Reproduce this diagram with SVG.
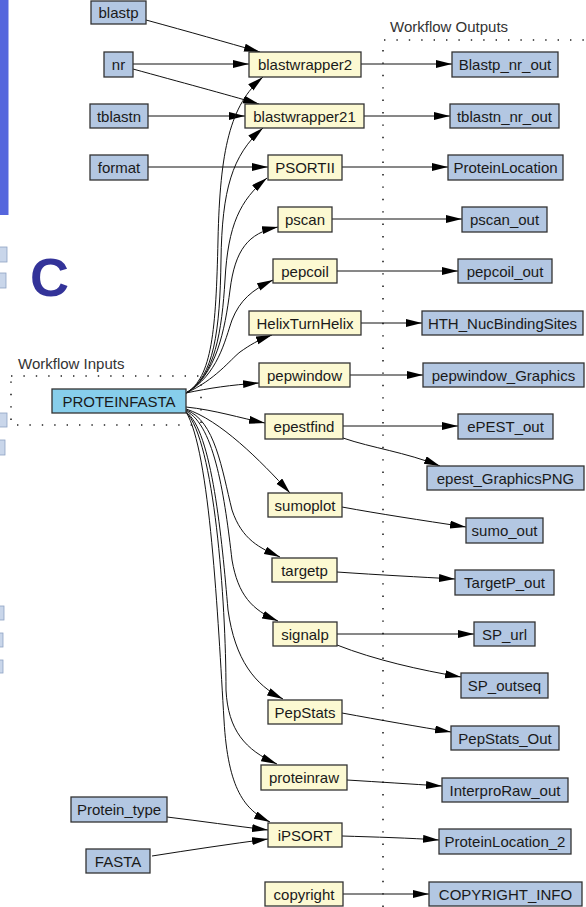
<svg xmlns="http://www.w3.org/2000/svg" width="586" height="907" viewBox="0 0 586 907">
  <style>
    text { font-family: "Liberation Sans", Arial, sans-serif; font-size: 15px; fill: #1a1a1a; }
    .lbl { text-anchor: middle; }
    .proc rect { fill: #fcf9d2; stroke: #333; stroke-width: 1.3; }
    .port rect { fill: #b3c7e2; stroke: #333; stroke-width: 1.3; }
    .src rect { fill: #87ceeb; stroke: #333; stroke-width: 1.3; }
    .edge { fill: none; stroke: #111; stroke-width: 1; marker-end: url(#arrow); }
    .dots { fill: none; stroke: #222; stroke-width: 1.6; stroke-dasharray: 1.4 11; }
    .title { font-size: 15px; fill: #333; }
    .frag { fill: #c9d6ea; stroke: #8fa3c4; stroke-width: 0.8; }
  </style>
  <defs>
    <marker id="arrow" markerUnits="userSpaceOnUse" markerWidth="18" markerHeight="9" refX="16" refY="4" orient="auto">
      <path d="M0,0 L16,4 L0,8 z" fill="#000"/>
    </marker>
  </defs>

  <rect width="586" height="907" fill="#fff"/>

  <!-- cropped neighbouring panel at the left edge -->
  <g id="panel-edge">
    <rect x="0" y="0" width="8.5" height="215" fill="#5566dd"/>
    <rect class="frag" x="-2" y="247" width="9" height="15"/>
    <rect class="frag" x="-2" y="273" width="8" height="15"/>
    <rect class="frag" x="-2" y="413" width="9" height="14"/>
    <rect class="frag" x="-2" y="440" width="7" height="15"/>
    <rect class="frag" x="-2" y="606" width="6" height="14"/>
    <rect class="frag" x="-2" y="633" width="5" height="14"/>
    <rect class="frag" x="-2" y="660" width="5" height="13"/>
    <text x="30" y="296" style="font-size:54px;font-weight:bold;fill:#333399">C</text>
  </g>

  <!-- workflow input / output boundaries -->
  <g id="boundaries">
    <text class="title" x="18" y="369">Workflow Inputs</text>
    <path class="dots" d="M11,376 H201 V425 H11 Z"/>
    <text class="title" x="390" y="32">Workflow Outputs</text>
    <path class="dots" d="M383,907 V40 H586"/>
  </g>

  <g id="connectors">
    <!-- external inputs -->
    <path class="edge" d="M146,20 C190,32 225,42 260,52"/>
    <path class="edge" d="M133,64 H249"/>
    <path class="edge" d="M133,69 C180,82 225,94 259,104"/>
    <path class="edge" d="M148,116 H245"/>
    <path class="edge" d="M148,167 H268"/>
    <path class="edge" d="M167,817 C200,821 235,826 268,830"/>
    <path class="edge" d="M152,856 C190,850 230,844 268,839"/>

    <!-- PROTEINFASTA fan-out, upward -->
    <path class="edge" d="M186,393 C212,378 216,330 218,240 C220,150 230,105 263,77"/>
    <path class="edge" d="M186,393 C214,378 220,330 221,260 C222,190 232,155 263,128"/>
    <path class="edge" d="M186,393 C215,378 222,330 225,280 C228,225 240,200 267,178"/>
    <path class="edge" d="M186,393 C216,376 225,330 230,290 C235,250 248,233 278,227"/>
    <path class="edge" d="M186,393 C218,375 225,340 232,320 C240,300 252,290 273,280"/>
    <path class="edge" d="M186,393 C215,380 230,360 240,352 C250,345 258,340 272,335"/>
    <path class="edge" d="M186,393 C210,388 230,385 259,383"/>

    <!-- PROTEINFASTA fan-out, downward -->
    <path class="edge" d="M186,407 C215,410 240,418 265,423"/>
    <path class="edge" d="M186,409 C220,420 260,460 290,493"/>
    <path class="edge" d="M186,410 C215,420 222,470 232,510 C242,540 260,548 280,557"/>
    <path class="edge" d="M186,411 C215,425 225,500 232,560 C238,595 252,610 278,621"/>
    <path class="edge" d="M186,412 C212,430 222,540 228,610 C235,660 255,685 283,699"/>
    <path class="edge" d="M186,412 C214,440 226,600 226,690 C228,730 245,750 277,764"/>
    <path class="edge" d="M186,412 C210,450 218,620 224,720 C228,790 245,810 270,822"/>

    <!-- processors to outputs -->
    <path class="edge" d="M361,64 H452"/>
    <path class="edge" d="M364,116 H450"/>
    <path class="edge" d="M342,167 H448"/>
    <path class="edge" d="M332,219 H462"/>
    <path class="edge" d="M337,271 H458"/>
    <path class="edge" d="M361,323 H422"/>
    <path class="edge" d="M350,375 H423"/>
    <path class="edge" d="M343,426 H458"/>
    <path class="edge" d="M343,438 C372,448 405,452 440,466"/>
    <path class="edge" d="M342,507 C380,514 420,520 466,527"/>
    <path class="edge" d="M337,572 C380,575 420,577 455,579"/>
    <path class="edge" d="M337,634 H474"/>
    <path class="edge" d="M337,645 C375,660 420,670 461,677"/>
    <path class="edge" d="M342,713 C380,720 420,727 451,732"/>
    <path class="edge" d="M347,780 C380,782 410,784 442,786"/>
    <path class="edge" d="M342,836 C375,837 410,838 439,840"/>
    <path class="edge" d="M343,894 H429"/>
  </g>

  <!-- workflow inputs -->
  <g id="blastp" class="port"><rect x="91" y="1" width="55" height="23"/><text class="lbl" x="118.5" y="18">blastp</text></g>
  <g id="nr" class="port"><rect x="104" y="52" width="29" height="25"/><text class="lbl" x="118.5" y="70">nr</text></g>
  <g id="tblastn" class="port"><rect x="90" y="104" width="58" height="24"/><text class="lbl" x="119" y="121.5">tblastn</text></g>
  <g id="format" class="port"><rect x="90" y="155" width="58" height="25"/><text class="lbl" x="119" y="173">format</text></g>
  <g id="Protein_type" class="port"><rect x="71" y="797" width="96" height="25"/><text class="lbl" x="119" y="815">Protein_type</text></g>
  <g id="FASTA" class="port"><rect x="86" y="849" width="64" height="24"/><text class="lbl" x="118" y="866.5">FASTA</text></g>
  <g id="PROTEINFASTA" class="src"><rect x="52" y="389" width="134" height="24"/><text class="lbl" x="119" y="406.5">PROTEINFASTA</text></g>

  <!-- processors -->
  <g id="blastwrapper2" class="proc"><rect x="249" y="52" width="112" height="25"/><text class="lbl" x="305" y="70">blastwrapper2</text></g>
  <g id="blastwrapper21" class="proc"><rect x="245" y="104" width="119" height="24"/><text class="lbl" x="304.5" y="121.5">blastwrapper21</text></g>
  <g id="PSORTII" class="proc"><rect x="268" y="155" width="74" height="25"/><text class="lbl" x="305" y="173">PSORTII</text></g>
  <g id="pscan" class="proc"><rect x="278" y="207" width="54" height="25"/><text class="lbl" x="305" y="225">pscan</text></g>
  <g id="pepcoil" class="proc"><rect x="273" y="259" width="64" height="24"/><text class="lbl" x="305" y="276.5">pepcoil</text></g>
  <g id="HelixTurnHelix" class="proc"><rect x="249" y="311" width="112" height="24"/><text class="lbl" x="305" y="328.5">HelixTurnHelix</text></g>
  <g id="pepwindow" class="proc"><rect x="259" y="363" width="91" height="24"/><text class="lbl" x="304.5" y="380.5">pepwindow</text></g>
  <g id="epestfind" class="proc"><rect x="265" y="414" width="78" height="25"/><text class="lbl" x="304" y="432">epestfind</text></g>
  <g id="sumoplot" class="proc"><rect x="268" y="493" width="74" height="24"/><text class="lbl" x="305" y="510.5">sumoplot</text></g>
  <g id="targetp" class="proc"><rect x="272" y="558" width="65" height="24"/><text class="lbl" x="304.5" y="575.5">targetp</text></g>
  <g id="signalp" class="proc"><rect x="273" y="622" width="64" height="24"/><text class="lbl" x="305" y="639.5">signalp</text></g>
  <g id="PepStats" class="proc"><rect x="268" y="700" width="74" height="24"/><text class="lbl" x="305" y="717.5">PepStats</text></g>
  <g id="proteinraw" class="proc"><rect x="261" y="765" width="86" height="25"/><text class="lbl" x="304" y="783">proteinraw</text></g>
  <g id="iPSORT" class="proc"><rect x="268" y="823" width="74" height="24"/><text class="lbl" x="305" y="840.5">iPSORT</text></g>
  <g id="copyright" class="proc"><rect x="265" y="882" width="78" height="24"/><text class="lbl" x="304" y="899.5">copyright</text></g>

  <!-- workflow outputs -->
  <g id="Blastp_nr_out" class="port"><rect x="452" y="52" width="106" height="25"/><text class="lbl" x="505" y="70">Blastp_nr_out</text></g>
  <g id="tblastn_nr_out" class="port"><rect x="450" y="104" width="109" height="24"/><text class="lbl" x="504.5" y="121.5">tblastn_nr_out</text></g>
  <g id="ProteinLocation" class="port"><rect x="448" y="155" width="115" height="25"/><text class="lbl" x="505.5" y="173">ProteinLocation</text></g>
  <g id="pscan_out" class="port"><rect x="462" y="207" width="85" height="25"/><text class="lbl" x="504.5" y="225">pscan_out</text></g>
  <g id="pepcoil_out" class="port"><rect x="458" y="259" width="94" height="24"/><text class="lbl" x="505" y="276.5">pepcoil_out</text></g>
  <g id="HTH_NucBindingSites" class="port"><rect x="422" y="311" width="161" height="24"/><text class="lbl" x="502.5" y="328.5">HTH_NucBindingSites</text></g>
  <g id="pepwindow_Graphics" class="port"><rect x="423" y="363" width="161" height="24"/><text class="lbl" x="503.5" y="380.5">pepwindow_Graphics</text></g>
  <g id="ePEST_out" class="port"><rect x="458" y="414" width="95" height="25"/><text class="lbl" x="505.5" y="432">ePEST_out</text></g>
  <g id="epest_GraphicsPNG" class="port"><rect x="427" y="466" width="157" height="24"/><text class="lbl" x="505.5" y="483.5">epest_GraphicsPNG</text></g>
  <g id="sumo_out" class="port"><rect x="466" y="518" width="77" height="25"/><text class="lbl" x="504.5" y="536">sumo_out</text></g>
  <g id="TargetP_out" class="port"><rect x="455" y="570" width="99" height="25"/><text class="lbl" x="504.5" y="588">TargetP_out</text></g>
  <g id="SP_url" class="port"><rect x="474" y="622" width="61" height="24"/><text class="lbl" x="504.5" y="639.5">SP_url</text></g>
  <g id="SP_outseq" class="port"><rect x="461" y="673" width="87" height="25"/><text class="lbl" x="504.5" y="691">SP_outseq</text></g>
  <g id="PepStats_Out" class="port"><rect x="451" y="726" width="108" height="24"/><text class="lbl" x="505" y="743.5">PepStats_Out</text></g>
  <g id="InterproRaw_out" class="port"><rect x="442" y="778" width="126" height="24"/><text class="lbl" x="505" y="795.5">InterproRaw_out</text></g>
  <g id="ProteinLocation_2" class="port"><rect x="439" y="829" width="132" height="25"/><text class="lbl" x="505" y="847">ProteinLocation_2</text></g>
  <g id="COPYRIGHT_INFO" class="port"><rect x="429" y="882" width="153" height="24"/><text class="lbl" x="505.5" y="899.5">COPYRIGHT_INFO</text></g>
</svg>
